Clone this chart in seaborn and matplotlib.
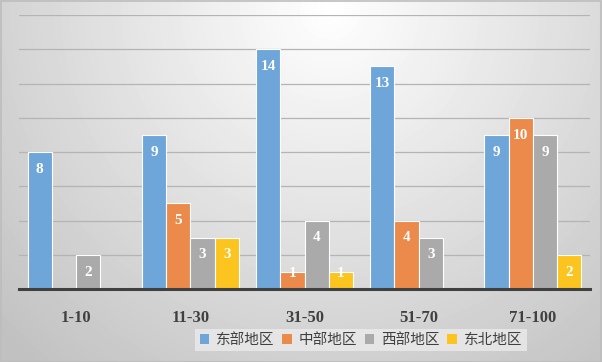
import numpy as np
import pandas as pd
import matplotlib
matplotlib.use("Agg")
import matplotlib.pyplot as plt
import seaborn as sns
from matplotlib.patches import Rectangle

categories = ["1-10", "11-30", "31-50", "51-70", "71-100"]
series = ["东部地区", "中部地区", "西部地区", "东北地区"]
east = [8, 9, 14, 13, 9]
central = [0, 5, 1, 4, 10]
west = [2, 3, 4, 3, 9]
northeast = [0, 3, 1, 0, 2]
colors = ["#6ea6d9", "#eb8a4a", "#aaaaaa", "#fbc41f"]

rows = []
for s, vals in zip(series, [east, central, west, northeast]):
    for c, v in zip(categories, vals):
        rows.append({"cat": c, "series": s, "value": v})
df = pd.DataFrame(rows)

sns.set_theme(style="white")
plt.rcParams["font.family"] = ["Noto Sans CJK SC", "DejaVu Sans"]

fig = plt.figure(figsize=(6.02, 3.62), dpi=100)

# background radial gradient
bg = fig.add_axes([0, 0, 1, 1], zorder=-10)
H, W = 362, 602
yy, xx = np.mgrid[0:H, 0:W]
d = np.sqrt(((xx - 330) / 420.0) ** 2 + ((yy - 10) / 420.0) ** 2)
val = np.clip(1.0 - 0.22 * d, 0.76, 1.0)
bg.imshow(val, cmap="gray", vmin=0, vmax=1, aspect="auto", interpolation="bilinear")
bg.set_axis_off()

ax = fig.add_axes([19 / 602, 1 - 289 / 362, (590 - 19) / 602, (289 - 15) / 362])
ax.set_facecolor("none")
sns.barplot(data=df, x="cat", y="value", hue="series", order=categories,
            hue_order=series, palette=colors, width=0.85, gap=0,
            edgecolor="white", linewidth=0.8, saturation=1, ax=ax, zorder=3)

ax.set_ylim(0, 16)
ax.set_yticks(np.arange(0, 17, 2))
ax.yaxis.grid(True, color="#b4b4b4", linewidth=0.9, zorder=0)
ax.set_axisbelow(True)
ax.tick_params(axis="y", left=False, labelleft=False)
ax.tick_params(axis="x", bottom=False, pad=9)
for sp in ["top", "right", "left"]:
    ax.spines[sp].set_visible(False)
ax.spines["bottom"].set_color("#404040")
ax.spines["bottom"].set_linewidth(2.2)
ax.spines["bottom"].set_zorder(5)
ax.set_xlabel("")
ax.set_ylabel("")
for lab in ax.get_xticklabels():
    lab.set_fontfamily("Liberation Serif")
    lab.set_fontweight("bold")
    lab.set_fontsize(12)
    lab.set_color("#404040")

for cont in ax.containers:
    for bar in cont:
        h = bar.get_height()
        if h <= 0:
            continue
        off = -12.5 if h >= 2 else -1.5
        ax.annotate(f"{int(h)}", (bar.get_x() + bar.get_width() / 2, h),
                    xytext=(0, off), textcoords="offset points",
                    ha="center", va="center", color="white",
                    fontfamily="Liberation Serif", fontweight="bold",
                    fontsize=11, zorder=6)

ax.get_legend().remove()
handles = [Rectangle((0, 0), 1, 1, facecolor=c, edgecolor="none") for c in colors]
leg = fig.legend(handles, series, loc="center", bbox_to_anchor=(361 / 602, 1 - 340 / 362),
                 ncol=4, frameon=True, fontsize=10.5, handlelength=0.65,
                 handleheight=0.65, handletextpad=0.5, columnspacing=0.5,
                 borderpad=0.3, fancybox=False)
leg.get_frame().set_facecolor("#ebebeb")
leg.get_frame().set_edgecolor("none")
leg.get_frame().set_alpha(0.8)
for t in leg.get_texts():
    t.set_color("#404040")

fig.patches.append(Rectangle((0.5 / 602, 0.5 / 362), 1 - 1.5 / 602, 1 - 1.5 / 362,
                             transform=fig.transFigure, fill=False,
                             edgecolor="#bdbdbd", linewidth=1.2, zorder=20))

fig.savefig("out.png", dpi=100)
